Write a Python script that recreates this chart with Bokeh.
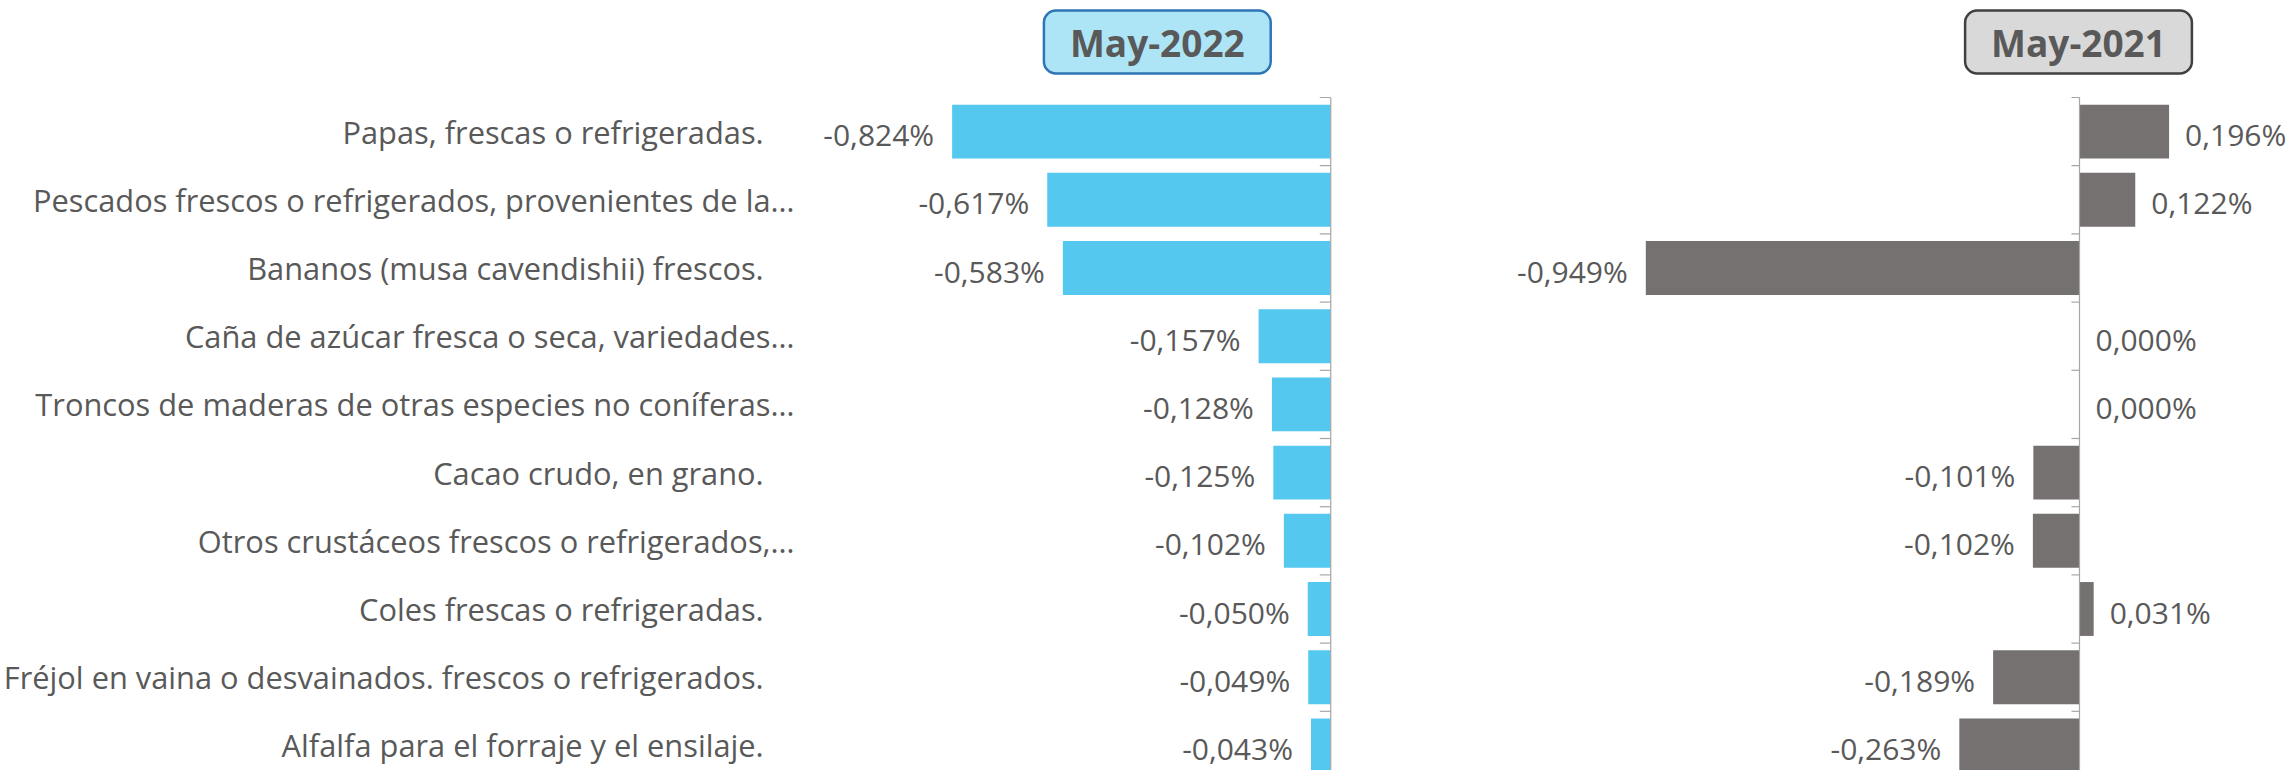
import numpy as np
from bokeh.plotting import figure
from bokeh.models import ColumnDataSource, Range1d, FixedTicker, Label
from bokeh.layouts import row
from bokeh.embed import file_html
from bokeh.resources import INLINE
from bokeh.core.properties import value

# ---------------- data ----------------
categories = [
    "Papas, frescas o refrigeradas.",
    "Pescados frescos o refrigerados, provenientes de la…",
    "Bananos (musa cavendishii) frescos.",
    "Caña de azúcar fresca o seca, variedades…",
    "Troncos de maderas de otras especies no coníferas…",
    "Cacao crudo, en grano.",
    "Otros crustáceos frescos o refrigerados,…",
    "Coles frescas o refrigeradas.",
    "Fréjol en vaina o desvainados. frescos o refrigerados.",
    "Alfalfa para el forraje y el ensilaje.",
]
may_2022 = [-0.824, -0.617, -0.583, -0.157, -0.128, -0.125, -0.102, -0.050, -0.049, -0.043]
may_2021 = [0.196, 0.122, -0.949, 0.000, 0.000, -0.101, -0.102, 0.031, -0.189, -0.263]
series_titles = ["May-2022", "May-2021"]

# ---------------- style / layout ----------------
FONT = "Open Sans"
TXT = "#595959"
H = 770
PITCH = 68.2
TOP_PAD = 97
n = len(categories)
y_top = -0.5 - TOP_PAD / PITCH
y_bot = y_top + H / PITCH
title_y = y_top + 41.5 / PITCH

def fmt(v):
    return ("%.3f%%" % v).replace(".", ",")

def make_source(vals):
    idx = list(range(len(vals)))
    return ColumnDataSource(dict(
        y=idx, v=vals,
        lab=[fmt(v) for v in vals],
        align=["right" if v < 0 else "left" for v in vals],
        off=[-18 if v < 0 else 16 for v in vals],
    ))

def base_fig(width, border_left, x0, x1, with_axis):
    p = figure(width=width, height=H, output_backend="svg", toolbar_location=None,
               x_range=Range1d(x0, x1), y_range=Range1d(y_bot, y_top),
               x_axis_location=None, y_axis_location="left" if with_axis else None,
               min_border_left=border_left, min_border_right=0,
               min_border_top=0, min_border_bottom=0)
    p.outline_line_color = None
    p.grid.visible = False
    p.background_fill_color = "white"
    p.border_fill_color = "white"
    return p

def draw_panel(p, vals, color, tick_len, title, box_fill, box_line, title_x):
    src = make_source(vals)
    p.hbar(y="y", right="v", left=0, height=0.79, source=src,
           fill_color=color, line_color=None)
    # zero axis + tick marks at band boundaries
    b = np.arange(len(vals) + 1) - 0.5
    p.segment(x0=[0], y0=[-0.5], x1=[0], y1=[len(vals) + 1],
              line_color="#a6a6a6", line_width=1.2)
    p.segment(x0=np.full(len(b), -tick_len), y0=b, x1=np.zeros(len(b)), y1=b,
              line_color="#a6a6a6", line_width=1.2)
    p.text(x="v", y="y", text="lab", source=src, x_offset="off", y_offset=3,
           text_align="align", text_baseline="middle",
           text_font=value(FONT), text_font_size="30px", text_color=TXT)
    p.add_layout(Label(x=title_x, y=title_y, text=title,
                       text_align="center", text_baseline="middle",
                       text_font=FONT, text_font_style="bold", text_font_size="37px",
                       text_color=TXT,
                       background_fill_color=box_fill, border_line_color=box_line,
                       border_line_width=2.5, border_radius=12, padding=(26, 6)))

# left panel (May-2022)
SC1 = 461.0
W1, BL1 = 1400, 800
x0_1 = -530 / SC1
x1_1 = x0_1 + (W1 - BL1) / SC1
p1 = base_fig(W1, BL1, x0_1, x1_1, True)
draw_panel(p1, may_2022, "#55C8EF", 11 / SC1, series_titles[0],
           "#ADE5F7", "#2E75B6", -174 / SC1)

ax = p1.yaxis[0]
ax.ticker = FixedTicker(ticks=list(range(n)))
pad = "\u2002\u2002"
ax.major_label_overrides = {i: (c if c.endswith("…") else c + pad)
                            for i, c in enumerate(categories)}
ax.major_label_text_font = FONT
ax.major_label_text_font_size = "30.8px"
ax.major_label_text_color = TXT
ax.major_label_standoff = 8
ax.major_tick_line_color = None
ax.minor_tick_line_color = None
ax.major_tick_out = 0
ax.major_tick_in = 0
ax.axis_line_color = None

# right panel (May-2021)
SC2 = 457.0
W2 = 888
x0_2 = -679 / SC2
x1_2 = x0_2 + W2 / SC2
p2 = base_fig(W2, 0, x0_2, x1_2, False)
draw_panel(p2, may_2021, "#757171", 8 / SC2, series_titles[1],
           "#D9D9D9", "#404040", -1 / SC2)

layout = row(p1, p2)
open("out.html", "w").write(file_html(layout, INLINE))
